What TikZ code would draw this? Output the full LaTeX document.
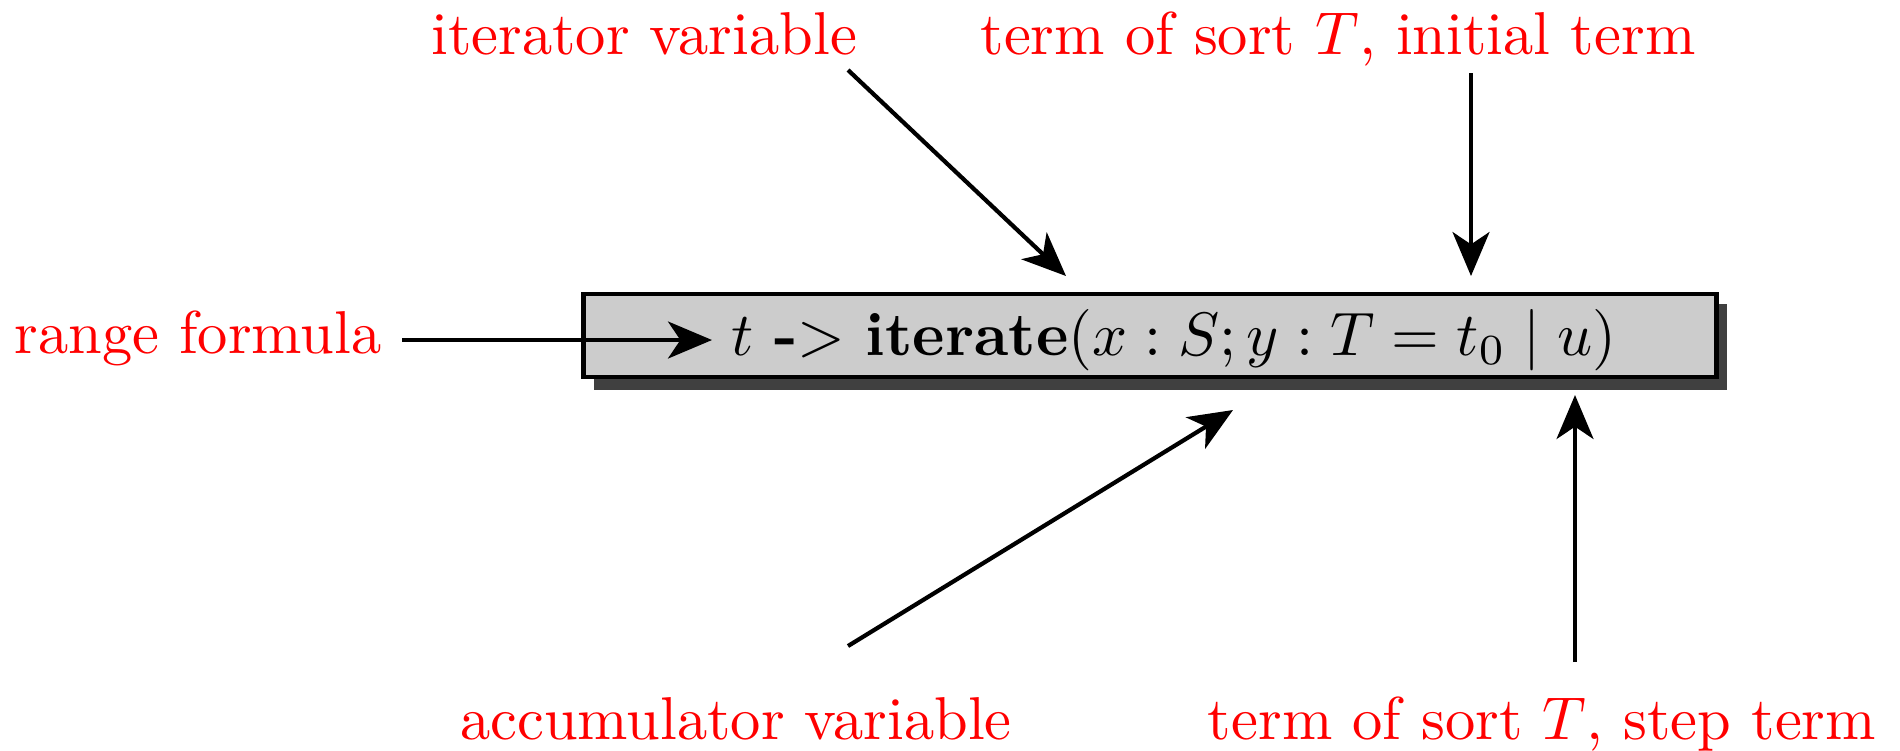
\documentclass[tikz,border=0pt]{standalone}
\usepackage{amsmath}
\usepackage{xcolor}
\usetikzlibrary{shapes,arrows.meta,positioning}

\begin{document}
\begin{tikzpicture}[x=0.01cm,y=-0.01cm,
  big/.style={font=\normalsize, scale=1.72, transform shape},
  lbl/.style={big, text=red, anchor=base, inner sep=0pt},
  pointer/.style={-{Stealth[length=12.5pt,width=10.5pt,inset=3.5pt]}, line width=1.2pt},
  exprbox/.style={draw, line width=1.3pt, fill=black!20, minimum width=11.32cm, minimum height=0.83cm, inner sep=0pt}]
\useasboundingbox (0,0) rectangle (1900,750);

% the box with its shadow
\fill[black!75] (594,304) rectangle (1727,390);
\node (box) [exprbox] at (1150,335.5) {};
\node (formula) [big, scale=1.015, anchor=base, inner sep=0pt] at (1174,355)
  {$t$ \textbf{-}$>$ \textbf{iterate}$(x : S; y : T = t_0 \mid u)$};

% labels
\node (range) [lbl] at (198,353) {range formula};
\node (iter) [lbl] at (644,54) {iterator variable};
\node (init) [lbl] at (1338,54) {term of sort $T$, initial term};
\node (acc) [lbl] at (736,739) {accumulator variable};
\node (stepterm) [lbl] at (1542,739) {term of sort $T$, step term};

\coordinate (rangefrom) at (402,340);
\coordinate (rangeto) at (712,340);
\coordinate (iterfrom) at (848,70);
\coordinate (iterto) at (1066,276);
\coordinate (initfrom) at (1471,73);
\coordinate (initto) at (1471,276);
\coordinate (accfrom) at (848,646);
\coordinate (accto) at (1233,410);
\coordinate (stepfrom) at (1575,662);
\coordinate (stepto) at (1575,395);

\draw[pointer] (rangefrom) -- (rangeto);
\draw[pointer] (iterfrom) -- (iterto);
\draw[pointer] (initfrom) -- (initto);
\draw[pointer] (accfrom) -- (accto);
\draw[pointer] (stepfrom) -- (stepto);
\end{tikzpicture}
\end{document}
